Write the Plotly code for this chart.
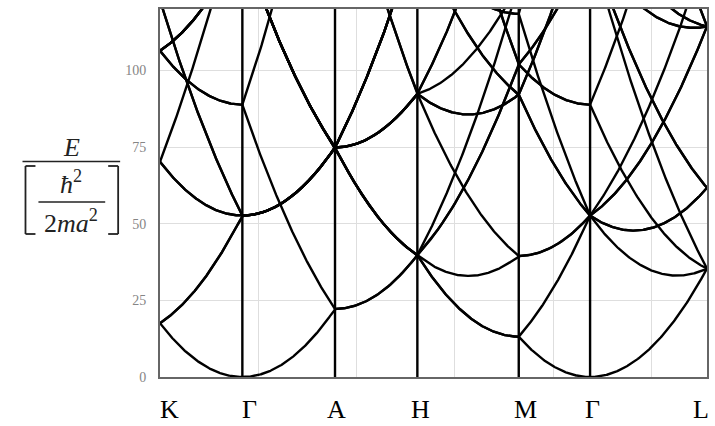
import numpy as np
import plotly.graph_objects as go

# Free-electron bands of a simple hexagonal lattice, E = |k + G|^2
# in units of hbar^2 / (2 m a^2); lattice constant a = 1, c/a = 2/3.
a_lat = 1.0
c_over_a = 2.0 / 3.0
e_max = 120.0

# high-symmetry path, coordinates as fractions of the reciprocal basis b1, b2, b3
point_labels = ["K", "Γ", "A", "H", "M", "Γ", "L"]
point_frac = [
    (1 / 3, 1 / 3, 0.0),
    (0.0, 0.0, 0.0),
    (0.0, 0.0, 0.5),
    (1 / 3, 1 / 3, 0.5),
    (0.5, 0.0, 0.0),
    (0.0, 0.0, 0.0),
    (0.5, 0.0, 0.5),
]
# small horizontal nudges of the point labels (px)
label_shift = [9, 7, 1, 3, 7, 2, -6]

# reciprocal lattice vectors
c_lat = c_over_a * a_lat
b1 = 2 * np.pi / a_lat * np.array([1.0, 1 / np.sqrt(3), 0.0])
b2 = 2 * np.pi / a_lat * np.array([0.0, 2 / np.sqrt(3), 0.0])
b3 = 2 * np.pi / c_lat * np.array([0.0, 0.0, 1.0])
basis = np.vstack([b1, b2, b3])

pts = np.array(point_frac) @ basis
seg_len = np.linalg.norm(np.diff(pts, axis=0), axis=1)
x_nodes = np.concatenate([[0.0], np.cumsum(seg_len)])

# k along the path and its distance coordinate
n_per_seg = 160
k_list, x_list = [], []
for i in range(len(pts) - 1):
    t = np.linspace(0.0, 1.0, n_per_seg)
    k_list.append(pts[i] + t[:, None] * (pts[i + 1] - pts[i]))
    x_list.append(x_nodes[i] + t * seg_len[i])
k_path = np.vstack(k_list)
x_path = np.concatenate(x_list)

# one line per reciprocal lattice vector G, broken with None between bands
xs, ys = [], []
for n1 in range(-4, 5):
    for n2 in range(-4, 5):
        for n3 in range(-3, 4):
            G = n1 * b1 + n2 * b2 + n3 * b3
            E = np.sum((k_path + G) ** 2, axis=1)
            if E.min() > e_max + 1:
                continue
            xs.extend(x_path.tolist() + [None])
            ys.extend(E.tolist() + [None])

fig = go.Figure()
fig.add_trace(go.Scatter(
    x=xs, y=ys, mode="lines",
    line=dict(color="black", width=2.4),
    hoverinfo="skip", showlegend=False,
))

# vertical lines at the interior high-symmetry points
for xv in x_nodes[1:-1]:
    fig.add_shape(type="line", xref="x", yref="paper", x0=xv, x1=xv, y0=0, y1=1,
                  line=dict(color="black", width=2.4))

serif = "Liberation Serif, Times New Roman, DejaVu Serif, serif"

# point labels under the axis
for lab, xv, dx in zip(point_labels, x_nodes, label_shift):
    fig.add_annotation(x=xv, y=0, xref="x", yref="paper", text=lab, showarrow=False,
                       xanchor="center", yanchor="middle", xshift=dx, yshift=-32,
                       font=dict(family=serif, size=26, color="black"))

# axis title: E / [hbar^2 / (2 m a^2)]
L, T, W, H = 160, 9, 549, 368


def px(xp):
    return (xp - L) / W


def py(yp):
    return (T + H - yp) / H


def line_px(x0, y0, x1, y1, w=1.6, color="#222"):
    fig.add_shape(type="line", xref="paper", yref="paper",
                  x0=px(x0), y0=py(y0), x1=px(x1), y1=py(y1),
                  line=dict(color=color, width=w))


def text_px(x, y, s, size=26):
    fig.add_annotation(x=px(x), y=py(y), xref="paper", yref="paper", text=s,
                       showarrow=False, xanchor="center", yanchor="middle",
                       font=dict(family=serif, size=size, color="#222"))


text_px(71, 148, "<i>E</i>")
line_px(22, 161.5, 120, 161.5)
text_px(71, 182, "<i>ħ</i><sup>2</sup>")
line_px(38, 202, 105, 202)
text_px(71, 221, "2<i>ma</i><sup>2</sup>")
# brackets
line_px(25, 166, 25, 234, w=1.8)
line_px(25, 166, 35, 166, w=1.8)
line_px(25, 234, 35, 234, w=1.8)
line_px(118, 166, 118, 234, w=1.8)
line_px(108, 166, 118, 166, w=1.8)
line_px(108, 234, 118, 234, w=1.8)

fig.update_layout(
    width=715, height=426,
    margin=dict(l=L, r=715 - L - W, t=T, b=426 - T - H),
    paper_bgcolor="white", plot_bgcolor="white",
    showlegend=False,
)
fig.update_xaxes(
    range=[0, x_nodes[-1]], tick0=0, dtick=5,
    showticklabels=False, ticks="",
    showgrid=True, gridcolor="#dedede", gridwidth=1, zeroline=False,
    showline=True, mirror=True, linecolor="#666", linewidth=2,
)
fig.update_yaxes(
    range=[0, e_max], tickvals=[0, 25, 50, 75, 100],
    ticks="", ticklabelstandoff=9,
    tickfont=dict(family=serif, size=14, color="#858585"),
    showgrid=True, gridcolor="#dedede", gridwidth=1, zeroline=False,
    showline=True, mirror=True, linecolor="#666", linewidth=2,
)

fig.write_html("out.html")
